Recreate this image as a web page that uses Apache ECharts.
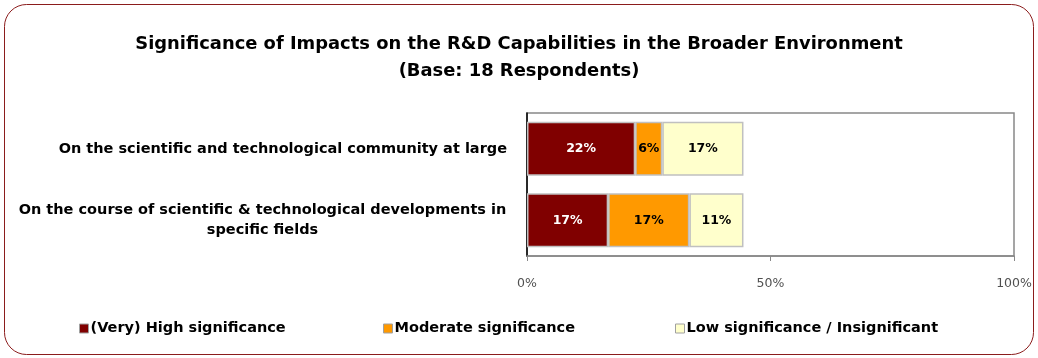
<!DOCTYPE html>
<html><head><meta charset="utf-8">
<script src="https://cdn.jsdelivr.net/npm/echarts@6/dist/echarts.min.js"></script>
<style>html,body{margin:0;padding:0;background:#fff}#c{width:1038px;height:358px}</style>
</head><body><div id="c"></div>
<script>
const categories = ["On the scientific and technological community at large",
  "On the course of scientific & technological developments in\nspecific fields"];
const seriesNames = ["(Very) High significance", "Moderate significance", "Low significance / Insignificant"];
const highValues = [22.22, 16.67];
const moderateValues = [5.56, 16.67];
const lowValues = [16.67, 11.11];
const xTicks = [0, 50, 100];
const colors = ["#800000", "#FF9900", "#FFFFCC"];
const labelColors = ["#ffffff", "#000000", "#000000"];
const values = [highValues, moderateValues, lowValues];
const F = 'DejaVu Sans';

const chart = echarts.init(document.getElementById('c'), null, {renderer: 'canvas'});
const series = seriesNames.map((n, i) => ({
  name: n, type: 'bar', stack: 's', data: values[i], barWidth: 54,
  itemStyle: {color: colors[i], borderColor: '#C0C0C0', borderWidth: 1.5},
  label: {show: true, position: 'inside', color: labelColors[i], fontFamily: F, fontWeight: 'bold', fontSize: 12.5,
    formatter: p => Math.round(p.value) + '%'},
  emphasis: {disabled: true}
}));
const legendLeft = [74, 378, 670];
const legends = seriesNames.map((n, i) => ({
  data: [n], left: legendLeft[i], top: 316, itemWidth: 9, itemHeight: 9, itemGap: 4,
  icon: 'rect', selectedMode: false,
  itemStyle: {borderColor: '#A0A0A0', borderWidth: 1},
  textStyle: {fontFamily: F, fontWeight: 'bold', fontSize: 14.5, color: '#000', padding: [0,0,0,-3]}
}));
chart.setOption({
  animation: false,
  title: {text: 'Significance of Impacts on the R&D Capabilities in the Broader Environment\n(Base: 18 Respondents)',
    left: 'center', top: 26,
    textStyle: {fontFamily: F, fontWeight: 'bold', fontSize: 17.9, color: '#000', lineHeight: 27}},
  graphic: [{type: 'rect', shape: {x: 4.5, y: 4.5, width: 1029, height: 350, r: 22}, silent: true,
    style: {fill: 'none', stroke: '#8B1C1C', lineWidth: 1}}],
  legend: legends,
  grid: {left: 527, right: 24, top: 113, height: 143, show: true, borderColor: '#888888', borderWidth: 1.5, backgroundColor: '#fff'},
  xAxis: {type: 'value', min: 0, max: 100, interval: 50,
    axisLine: {show: true, lineStyle: {color: '#888888', width: 1.5}},
    axisTick: {show: true, length: 5, lineStyle: {color: '#888888'}},
    splitLine: {show: false},
    axisLabel: {formatter: '{value}%', margin: 21, fontFamily: F, fontSize: 12.5, color: '#505050'}},
  yAxis: {type: 'category', inverse: true, data: categories,
    axisLine: {show: true, lineStyle: {color: '#000', width: 1.5}},
    axisTick: {show: false},
    axisLabel: {margin: 20, fontFamily: F, fontWeight: 'bold', fontSize: 14.5, color: '#000', lineHeight: 20,
      formatter: v => v.indexOf('\n') >= 0 ? v.split('\n').map(s => '{c|' + s + '}').join('\n') : v,
      rich: {c: {width: 489, align: 'center', fontFamily: F, fontWeight: 'bold', fontSize: 14.5, lineHeight: 20}}}},
  series: series
});
</script></body></html>
